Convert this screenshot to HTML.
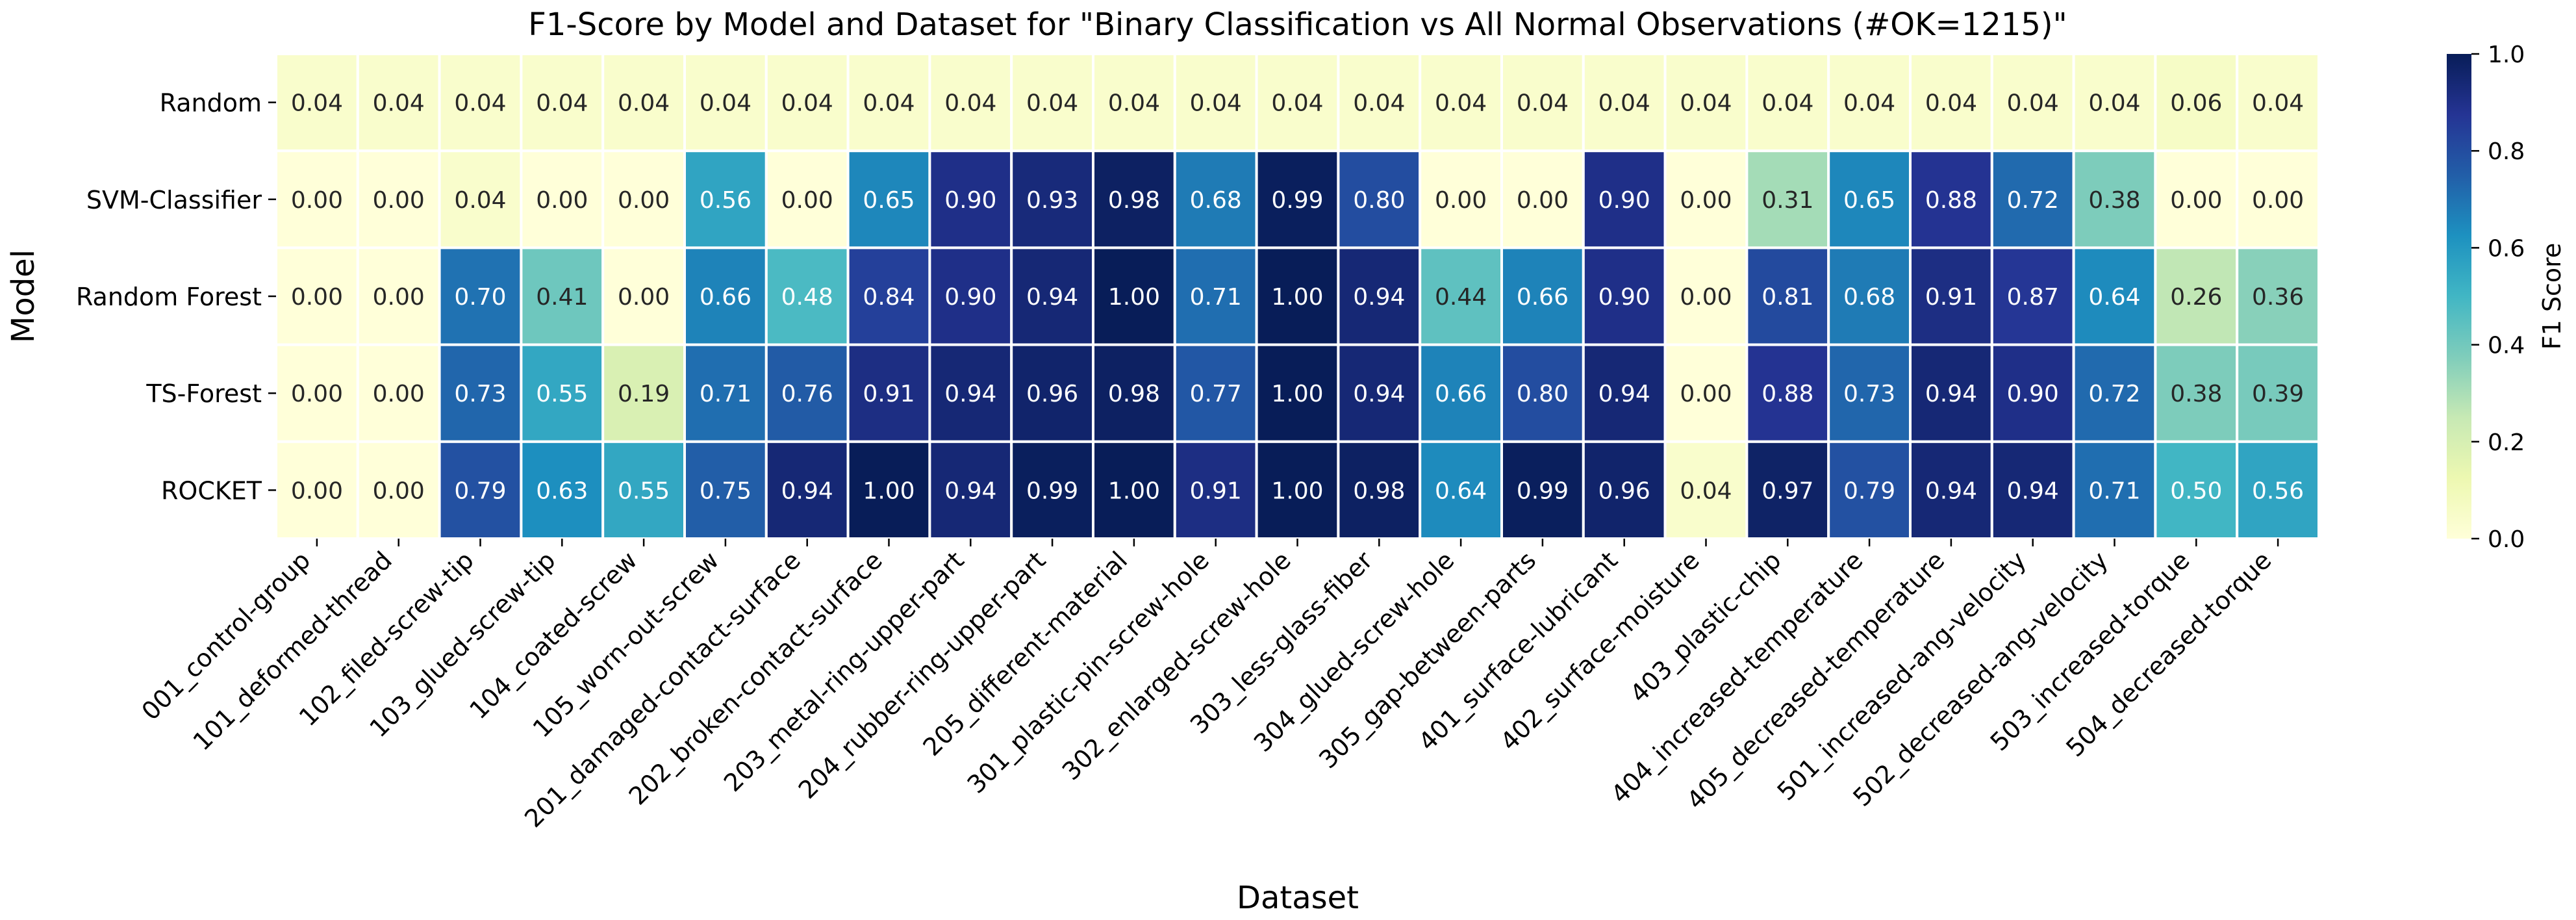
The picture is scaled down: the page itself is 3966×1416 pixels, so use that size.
<!DOCTYPE html>
<html><head><meta charset="utf-8">
<style>
html,body{margin:0;padding:0;background:#fff;}
svg{display:block;font-family:"DejaVu Sans","Liberation Sans",sans-serif;}
</style></head>
<body>
<svg id="chart" width="3966" height="1416" viewBox="0 0 3966 1416" xmlns="http://www.w3.org/2000/svg">
<text x="1998" y="54" font-size="48" text-anchor="middle" fill="#000">F1-Score by Model and Dataset for "Binary Classification vs All Normal Observations (#OK=1215)"</text>
<text transform="translate(52,456) rotate(-90)" font-size="48" text-anchor="middle" fill="#000">Model</text>
<text x="1998" y="1398" font-size="48" text-anchor="middle" fill="#000">Dataset</text>
<g id="cells"></g>
<g id="ylabels"></g>
<g id="xlabels"></g>
<defs><linearGradient id="cbgrad" x1="0" y1="1" x2="0" y2="0"></linearGradient></defs>
<rect x="3767" y="83" width="38" height="746" fill="url(#cbgrad)"/>
<g id="cbticks"></g>
<text transform="translate(3942,456) rotate(-90)" font-size="38" text-anchor="middle" fill="#000">F1 Score</text>
</svg>
<script>
const models = ["Random","SVM-Classifier","Random Forest","TS-Forest","ROCKET"];
const datasets = ["001_control-group","101_deformed-thread","102_filed-screw-tip","103_glued-screw-tip","104_coated-screw","105_worn-out-screw","201_damaged-contact-surface","202_broken-contact-surface","203_metal-ring-upper-part","204_rubber-ring-upper-part","205_different-material","301_plastic-pin-screw-hole","302_enlarged-screw-hole","303_less-glass-fiber","304_glued-screw-hole","305_gap-between-parts","401_surface-lubricant","402_surface-moisture","403_plastic-chip","404_increased-temperature","405_decreased-temperature","501_increased-ang-velocity","502_decreased-ang-velocity","503_increased-torque","504_decreased-torque"];
const rowRandom = [0.04,0.04,0.04,0.04,0.04,0.04,0.04,0.04,0.04,0.04,0.04,0.04,0.04,0.04,0.04,0.04,0.04,0.04,0.04,0.04,0.04,0.04,0.04,0.06,0.04];
const rowSVM = [0,0,0.04,0,0,0.56,0,0.65,0.90,0.93,0.98,0.68,0.99,0.80,0,0,0.90,0,0.31,0.65,0.88,0.72,0.38,0,0];
const rowRF = [0,0,0.70,0.41,0,0.66,0.48,0.84,0.90,0.94,1.00,0.71,1.00,0.94,0.44,0.66,0.90,0,0.81,0.68,0.91,0.87,0.64,0.26,0.36];
const rowTSF = [0,0,0.73,0.55,0.19,0.71,0.76,0.91,0.94,0.96,0.98,0.77,1.00,0.94,0.66,0.80,0.94,0,0.88,0.73,0.94,0.90,0.72,0.38,0.39];
const rowROCKET = [0,0,0.79,0.63,0.55,0.75,0.94,1.00,0.94,0.99,1.00,0.91,1.00,0.98,0.64,0.99,0.96,0.04,0.97,0.79,0.94,0.94,0.71,0.50,0.56];
const cbTicks = [0,0.2,0.4,0.6,0.8,1.0];
const cbTickLabels = ["0.0","0.2","0.4","0.6","0.8","1.0"];

const NS="http://www.w3.org/2000/svg";
const X0=425,X1=3570,Y0=83,Y1=829;
const rows=[rowRandom,rowSVM,rowRF,rowTSF,rowROCKET];
const cw=(X1-X0)/datasets.length, rh=(Y1-Y0)/models.length;
const xPos=i=>X0+i*cw, yPos=j=>Y0+j*rh;
const cbY=v=>Y1-v*(Y1-Y0);
const stops=["#ffffd9","#edf8b1","#c7e9b4","#7fcdbb","#41b6c4","#1d91c0","#225ea8","#253494","#081d58"];
function hex(h){return [1,3,5].map(k=>parseInt(h.substr(k,2),16));}
function cmap(v){v=Math.max(0,Math.min(1,v));const t=v*8,i=Math.min(7,Math.floor(t)),f=t-i;const a=hex(stops[i]),b=hex(stops[i+1]);return a.map((c,k)=>Math.round(c+(b[k]-c)*f));}
function lum(c){const l=c.map(x=>{x/=255;return x<=0.03928?x/12.92:Math.pow((x+0.055)/1.055,2.4);});return 0.2126*l[0]+0.7152*l[1]+0.0722*l[2];}
function mk(tag,attrs,parent){const e=document.createElementNS(NS,tag);for(const k in attrs)e.setAttribute(k,attrs[k]);parent.appendChild(e);return e;}
const cells=document.getElementById('cells');
rows.forEach((row,j)=>{row.forEach((v,i)=>{
 const c=cmap(v);
 const r=mk('rect',{x:xPos(i),y:yPos(j),width:cw,height:rh,fill:`rgb(${c})`,stroke:'#fff','stroke-width':4},cells);
 
 
 const t=mk('text',{x:xPos(i)+cw/2,y:yPos(j)+rh/2+13,'font-size':36,'text-anchor':'middle',fill:lum(c)>0.408?'#262626':'#ffffff'},cells);
 t.textContent=v.toFixed(2);
 
 
});});
const yl=document.getElementById('ylabels');
models.forEach((m,j)=>{
 const y=yPos(j)+rh/2;
 mk('line',{x1:X0-12,x2:X0,y1:y,y2:y,stroke:'#000','stroke-width':2.5},yl);
 const t=mk('text',{x:X0-22,y:y+14,'font-size':38,'text-anchor':'end',fill:'#000'},yl);
 t.textContent=m;
 
 
});
const xl=document.getElementById('xlabels');
datasets.forEach((d,i)=>{
 const x=xPos(i)+cw/2;
 mk('line',{x1:x,x2:x,y1:Y1,y2:Y1+12,stroke:'#000','stroke-width':2.5},xl);
 const t=mk('text',{transform:`translate(${x-8},${Y1+36}) rotate(-45)`,'font-size':38,'text-anchor':'end',fill:'#000'},xl);
 t.textContent=d;
 
 
});
const g=document.getElementById('cbgrad');
stops.forEach((s,k)=>mk('stop',{offset:k/8,'stop-color':s},g));
const cb=document.getElementById('cbticks');
cbTicks.forEach((v,k)=>{
 const y=cbY(v);
 mk('line',{x1:3805,x2:3817,y1:y,y2:y,stroke:'#000','stroke-width':2.5},cb);
 const t=mk('text',{x:3830,y:y+13,'font-size':36,fill:'#000'},cb);
 t.textContent=cbTickLabels[k];
 
 
});
</script>
</body></html>
